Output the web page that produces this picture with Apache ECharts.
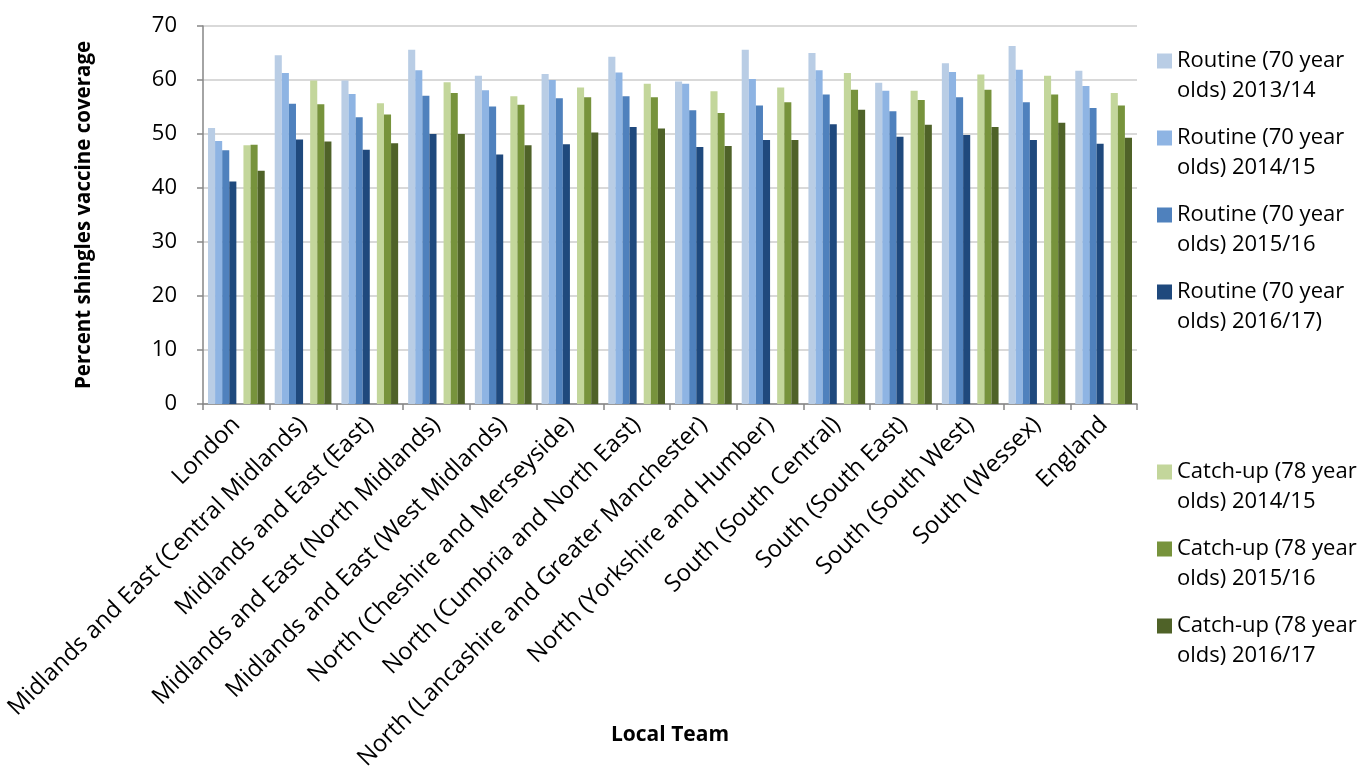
<!DOCTYPE html>
<html>
<head>
<meta charset="utf-8">
<script src="https://cdn.jsdelivr.net/npm/echarts@6/dist/echarts.min.js"></script>
<style>
  html, body { margin: 0; padding: 0; background: #fff; }
  #chart { width: 1367px; height: 769px; }
</style>
</head>
<body>
<div id="chart"></div>
<script>
// local teams
var teams = ['London', 'Midlands and East (Central Midlands)', 'Midlands and East (East)',
  'Midlands and East (North Midlands)', 'Midlands and East (West Midlands)',
  'North (Cheshire and Merseyside)', 'North (Cumbria and North East)',
  'North (Lancashire and Greater Manchester)', 'North (Yorkshire and Humber)',
  'South (South Central)', 'South (South East)', 'South (South West)', 'South (Wessex)', 'England']

var routine1314 = [51.1, 64.6, 59.9, 65.6, 60.8, 61.1, 64.3, 59.7, 65.6, 65.0, 59.5, 63.1, 66.3, 61.7]
var routine1415 = [48.7, 61.3, 57.4, 61.8, 58.1, 60.0, 61.4, 59.3, 60.2, 61.8, 58.0, 61.5, 61.9, 58.9]
var routine1516 = [47.0, 55.6, 53.1, 57.1, 55.1, 56.6, 57.0, 54.4, 55.3, 57.3, 54.2, 56.8, 55.9, 54.8]
var routine1617 = [41.2, 49.0, 47.1, 50.0, 46.2, 48.1, 51.3, 47.6, 48.9, 51.8, 49.5, 49.8, 48.9, 48.2]
var catchup1415 = [47.9, 59.9, 55.7, 59.6, 57.0, 58.6, 59.3, 57.9, 58.6, 61.3, 58.0, 61.0, 60.8, 57.6]
var catchup1516 = [48.0, 55.5, 53.6, 57.6, 55.4, 56.8, 56.8, 53.9, 55.9, 58.2, 56.3, 58.2, 57.3, 55.3]
var catchup1617 = [43.2, 48.6, 48.3, 50.0, 47.9, 50.3, 51.0, 47.8, 48.9, 54.5, 51.7, 51.3, 52.1, 49.3]

var routineNames = ['Routine (70 year olds) 2013/14', 'Routine (70 year olds) 2014/15',
  'Routine (70 year olds) 2015/16', 'Routine (70 year olds) 2016/17)']
var catchupNames = ['Catch-up (78 year olds) 2014/15', 'Catch-up (78 year olds) 2015/16',
  'Catch-up (78 year olds) 2016/17']

var colors = ['#B9CDE5', '#8EB4E3', '#4F81BD', '#1F497D', '#ffffff', '#C3D69B', '#77933C', '#4F6228']
var font = '"Open Sans", sans-serif'

var chart = echarts.init(document.getElementById('chart'))

function bar (name, data, color) {
  return {
    name: name,
    type: 'bar',
    data: data,
    barGap: 0,
    barCategoryGap: '15%',
    itemStyle: { color: color },
    animation: false
  }
}

// legend text: two lines, square drawn in the top part of the icon box so it sits by line one
function legendBlock (names, top) {
  return {
    data: names,
    orient: 'vertical',
    left: 1152,
    top: top,
    itemWidth: 15,
    itemHeight: 45,
    itemGap: 25,
    icon: 'path://M0,0L15,0L15,15L0,15Z M0,45L15,45',
    formatter: function (n) {
      var i = n.indexOf(' olds)')
      return '{a|' + n.slice(0, i) + '}\n{a|' + n.slice(i + 1) + '}'
    },
    textStyle: {
      fontFamily: font,
      fontSize: 22,
      color: '#000',
      rich: { a: { fontFamily: font, fontSize: 22, color: '#000', lineHeight: 30 } }
    }
  }
}

chart.setOption({
  animation: false,
  grid: { left: 203, right: 230, top: 26, bottom: 365, outerBoundsMode: 'none' },
  legend: [legendBlock(routineNames, 45), legendBlock(catchupNames, 456)],
  xAxis: {
    type: 'category',
    data: teams,
    name: 'Local Team',
    nameLocation: 'middle',
    nameGap: 321,
    nameMoveOverlap: false,
    nameTextStyle: { fontFamily: font, fontSize: 21, fontWeight: 'bold', color: '#000' },
    axisLine: { lineStyle: { color: '#868686', width: 1.5 } },
    axisTick: { show: true, length: 6, lineStyle: { color: '#868686', width: 1.5 } },
    axisLabel: { rotate: 45, fontFamily: font, fontSize: 23.8, color: '#000', margin: 17, interval: 0 }
  },
  yAxis: {
    type: 'value',
    min: 0,
    max: 70,
    interval: 10,
    name: 'Percent shingles vaccine coverage',
    nameLocation: 'middle',
    nameGap: 108,
    nameTextStyle: { fontFamily: font, fontSize: 20.5, fontWeight: 'bold', color: '#000' },
    axisLine: { show: true, lineStyle: { color: '#868686', width: 1.5 } },
    axisTick: { show: true, length: 6, lineStyle: { color: '#868686', width: 1.5 } },
    axisLabel: { fontFamily: font, fontSize: 22, color: '#000', margin: 26 },
    splitLine: { lineStyle: { color: '#D9D9D9', width: 2 } }
  },
  series: [
    bar(routineNames[0], routine1314, colors[0]),
    bar(routineNames[1], routine1415, colors[1]),
    bar(routineNames[2], routine1516, colors[2]),
    bar(routineNames[3], routine1617, colors[3]),
    bar('', [], colors[4]),
    bar(catchupNames[0], catchup1415, colors[5]),
    bar(catchupNames[1], catchup1516, colors[6]),
    bar(catchupNames[2], catchup1617, colors[7])
  ]
})
</script>
</body>
</html>
